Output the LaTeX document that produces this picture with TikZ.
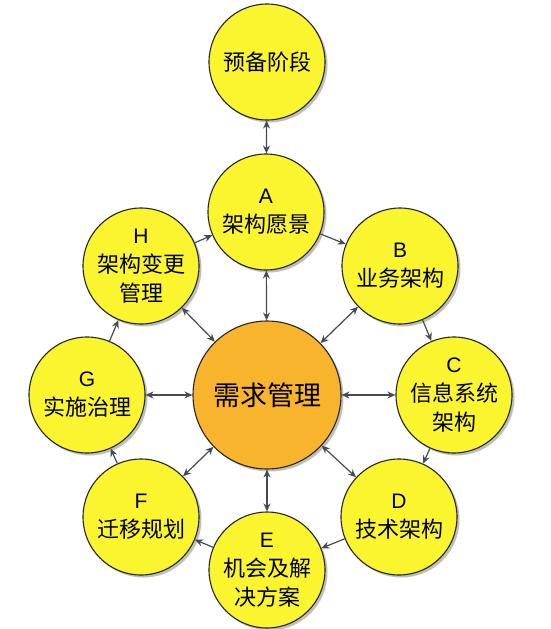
\documentclass[tikz,border=0pt]{standalone}
\usepackage{fontspec}
\setmainfont{Liberation Sans}
\newfontfamily\cjk{Noto Sans CJK SC}
\usetikzlibrary{arrows.meta,shadows}
\definecolor{ringyellow}{HTML}{FAF52E}
\definecolor{coreorange}{HTML}{F8B42C}
\definecolor{edgegray}{HTML}{454A55}
\tikzset{
  bub/.style={circle,draw=black!85,line width=1.1pt,fill=ringyellow,minimum size=116pt,inner sep=0pt,align=center,
    font=\fontsize{22}{29}\selectfont,
    drop shadow={shadow xshift=2.5pt,shadow yshift=-2.5pt,opacity=0.25,fill=black}},
  core/.style={bub,fill=coreorange,minimum size=148pt,font=\fontsize{27}{32}\selectfont},
  arr/.style={draw=edgegray,line width=1.2pt,-{Stealth[length=8pt,width=7pt]}},
  darr/.style={draw=edgegray,line width=1.2pt,{Stealth[length=8pt,width=7pt]}-{Stealth[length=8pt,width=7pt]}},
}
\newcommand{\ltr}[1]{{\fontsize{21}{29}\selectfont #1}}
\begin{document}
\begin{tikzpicture}[x=1pt,y=-1pt]
\useasboundingbox[fill=white] (0,0) rectangle (550,629);
\node[bub] (P) at (267,62) {\cjk 预备阶段};
\node[bub] (A) at (266,212) {\ltr{A}\\\cjk 架构愿景};
\node[bub] (B) at (400,266) {\ltr{B}\\\cjk 业务架构};
\node[bub] (C) at (454,395) {\ltr{C}\\\cjk 信息系统\\\cjk 架构};
\node[bub] (D) at (399,517) {\ltr{D}\\\cjk 技术架构};
\node[bub] (E) at (267,570) {\ltr{E}\\\cjk 机会及解\\\cjk 决方案};
\node[bub] (F) at (141,517) {\ltr{F}\\\cjk 迁移规划};
\node[bub] (G) at (87,395) {\ltr{G}\\\cjk 实施治理};
\node[bub] (H) at (141,266) {\ltr{H}\\\cjk 架构变更\\\cjk 管理};
\node[core] (R) at (267,395) {\cjk 需求管理};
\draw[darr] (P) -- (A);
\draw[arr] (A) -- (B);
\draw[arr] (B) -- (C);
\draw[arr] (C) -- (D);
\draw[arr] (D) -- (E);
\draw[arr] (E) -- (F);
\draw[arr] (F) -- (G);
\draw[arr] (G) -- (H);
\draw[arr] (H) -- (A);
\foreach \n in {A,B,C,D,E,F,G,H} \draw[darr] (R) -- (\n);
\end{tikzpicture}
\end{document}
